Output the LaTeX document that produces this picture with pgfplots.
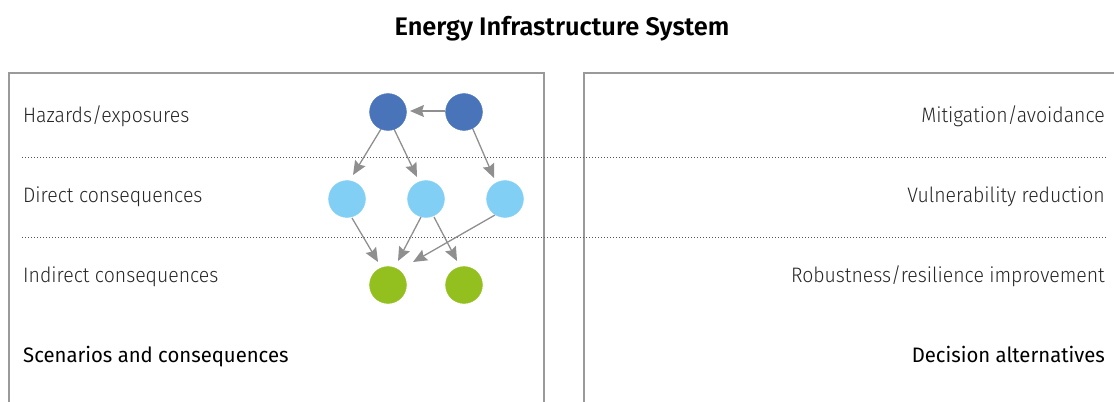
\documentclass[border=0pt]{standalone}
\usepackage{fontspec}
\setmainfont{Fira Sans}[FakeStretch=0.97]
\newfontfamily\lightfont{Fira Sans Light}[FakeStretch=0.93]
\newfontfamily\semifont{Fira Sans SemiBold}
\usepackage{pgfplots}
\pgfplotsset{compat=1.18}
\usetikzlibrary{arrows.meta}

\definecolor{hazard}{HTML}{4A74BA}
\definecolor{direct}{HTML}{82CFF5}
\definecolor{indirect}{HTML}{93C01F}
\definecolor{frame}{HTML}{9A9A9A}
\definecolor{arrowc}{HTML}{8F8F8F}
\definecolor{dots}{HTML}{555555}

\begin{document}
\begin{tikzpicture}[x=1bp,y=1bp]
\begin{axis}[
    at={(0,0)}, anchor=south west,
    scale only axis,
    width=1114bp, height=401bp,
    xmin=0, xmax=1114, ymin=0, ymax=401,
    y dir=reverse,
    hide axis,
    clip=true,
]
% panel frames
\addplot[frame, line width=2bp] coordinates {(9,420) (9,73) (544,73) (544,420)};
\addplot[frame, line width=2bp] coordinates {(584,420) (584,73) (1130,73)};
% level separators
\addplot[dots, line width=1bp, dash pattern=on 1bp off 2bp] coordinates {(22,157) (1106,157)};
\addplot[dots, line width=1bp, dash pattern=on 1bp off 2bp] coordinates {(22,237) (1106,237)};
% arrows
\tikzset{arr/.style={arrowc, line width=1.3bp, -{Stealth[length=14bp,width=12bp,inset=2bp]}}}
\addplot[arr] coordinates {(445,111) (410,111)};
\addplot[arr] coordinates {(381,129) (353,175)};
\addplot[arr] coordinates {(394,129) (417,177)};
\addplot[arr] coordinates {(472,127) (494,178)};
\addplot[arr] coordinates {(352,218) (378,262)};
\addplot[arr] coordinates {(421,217) (398,261)};
\addplot[arr] coordinates {(434,217) (457,261)};
\addplot[arr] coordinates {(495,215) (413,262)};
% nodes
\addplot[hazard, only marks, mark=*, mark size=18.5, mark options={draw=hazard, fill=hazard}] coordinates {(388,112) (464,112)};
\addplot[direct, only marks, mark=*, mark size=18.5, mark options={draw=direct, fill=direct}] coordinates {(347,199) (426,199) (505,199)};
\addplot[indirect, only marks, mark=*, mark size=18.5, mark options={draw=indirect, fill=indirect}] coordinates {(388,285) (464,285)};
\end{axis}
% text
\begin{scope}[shift={(0,401)}, y=-1bp]
\node[anchor=base, inner sep=0pt, font=\semifont\fontsize{25.5}{28}\selectfont] at (562,35) {Energy Infrastructure System};
\begin{scope}[every node/.style={inner sep=0pt, font=\lightfont\fontsize{21}{24}\selectfont, text=black!85}]
\node[anchor=base west] at (23,122) {Hazards/exposures};
\node[anchor=base west] at (23,202) {Direct consequences};
\node[anchor=base west] at (23,282) {Indirect consequences};
\node[anchor=base east] at (1105,122) {Mitigation/avoidance};
\node[anchor=base east] at (1105,202) {Vulnerability reduction};
\node[anchor=base east] at (1105,282) {Robustness/resilience improvement};
\end{scope}
\begin{scope}[every node/.style={inner sep=0pt, font=\fontsize{21}{24}\selectfont, text=black}]
\node[anchor=base west] at (23,362) {Scenarios and consequences};
\node[anchor=base east] at (1105,362) {Decision alternatives};
\end{scope}
\end{scope}
\pgfresetboundingbox
\useasboundingbox (0,0) rectangle (1114,401);
\end{tikzpicture}
\end{document}
